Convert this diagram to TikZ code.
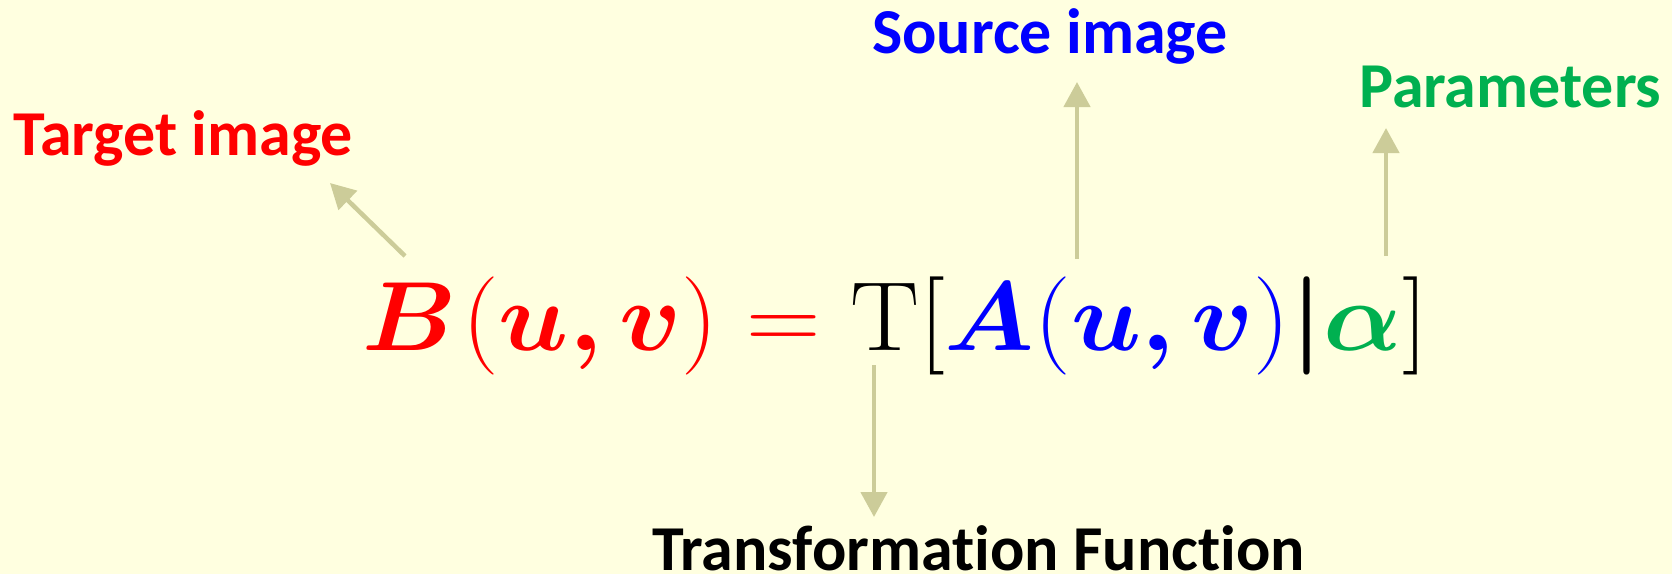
\documentclass[tikz,border=0pt]{standalone}
\usepackage{graphicx}
\usepackage{fontspec}
\usepackage{bm}
\usetikzlibrary{arrows.meta}
\newfontfamily\labelfont[Ligatures=NoCommon,BoldFont={Carlito Bold},BoldFeatures={Ligatures=NoCommon}]{Carlito}
\definecolor{bgyellow}{RGB}{255,255,224}
\definecolor{arrowtan}{RGB}{204,204,153}
\definecolor{pgreen}{RGB}{0,176,80}
\tikzset{
  lbl/.style={anchor=base west, inner sep=0pt, font=\labelfont\bfseries\fontsize{64}{64}\selectfont},
  pointer/.style={draw=arrowtan, line width=4.5pt, -{Triangle[length=25pt,width=26pt]}}
}
\begin{document}
\begin{tikzpicture}[x=1pt,y=-1pt]
\fill[bgyellow] (0,0) rectangle (1672,574);
\useasboundingbox (0,0) rectangle (1672,574);
\node[anchor=base west, inner sep=0pt] (eq) at (362,350) {\Huge\scalebox{4.15}[3.95]{%
  $\color{red}\bm{B}\mkern1mu(\bm{u}\bm{,}\bm{v})=\color{black}\mathrm{T}[\color{blue}\bm{A}(\bm{u}\bm{,}\bm{v})\color{black}\bm{|}\color{pgreen}\bm{\alpha}\color{black}]$}};
\node[lbl, text=red] (tgt) at (13,155) {Target image};
\node[lbl, text=blue] (src) at (872,53) {Source image};
\node[lbl, text=pgreen] (par) at (1359,107) {Parameters};
\node[lbl, text=black] (tf) at (652,570) {Transformation Function};
\coordinate (tB) at (405,256);
\coordinate (hB) at (330,183);
\coordinate (tA) at (1077,259);
\coordinate (hA) at (1077,82);
\coordinate (tP) at (1386,256);
\coordinate (hP) at (1386,128);
\coordinate (tT) at (874,365);
\coordinate (hT) at (874,517);
\draw[pointer] (tB) -- (hB);
\draw[pointer] (tA) -- (hA);
\draw[pointer] (tP) -- (hP);
\draw[pointer] (tT) -- (hT);
\end{tikzpicture}
\end{document}
